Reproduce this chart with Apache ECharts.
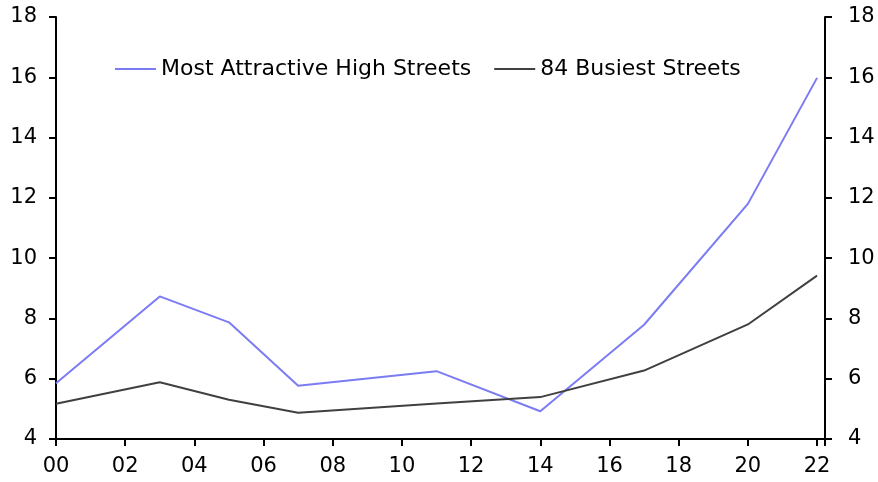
<!DOCTYPE html>
<html><head><meta charset="utf-8">
<script src="https://cdn.jsdelivr.net/npm/echarts@6/dist/echarts.min.js"></script>
<style>html,body{margin:0;padding:0;background:#fff}#c{width:878px;height:482px}</style>
</head><body><div id="c"></div>
<script>
const years = [0, 3, 5, 7, 11, 14, 17, 20, 22];
const attractive = [5.85, 8.73, 7.87, 5.77, 6.25, 4.92, 7.79, 11.8, 15.98];
const busiest = [5.17, 5.88, 5.3, 4.87, 5.18, 5.39, 6.27, 7.8, 9.42];
const seriesNames = ['Most Attractive High Streets', '84 Busiest Streets'];
const yTicks = [4, 6, 8, 10, 12, 14, 16, 18];

const font = 'DejaVu Sans, sans-serif';
const chart = echarts.init(document.getElementById('c'), null, {renderer: 'canvas'});
const pair = (vals) => years.map((y, i) => [y, vals[i]]);
const yAxisCommon = {
  type: 'value', min: yTicks[0], max: yTicks[yTicks.length - 1], interval: 2,
  splitLine: {show: false},
  axisLine: {show: true, lineStyle: {color: '#000', width: 2}},
  axisTick: {show: true, length: 7, lineStyle: {color: '#000', width: 2}},
  axisLabel: {color: '#000', fontSize: 21, fontFamily: font}
};
chart.setOption({
  animation: false,
  grid: {left: 56, right: 53, top: 17, bottom: 43, containLabel: false},
  legend: {
    left: 110, top: 53, icon: 'rect', itemWidth: 41, itemHeight: 2, itemGap: 23,
    textStyle: {color: '#000', fontSize: 22, fontFamily: font},
    data: seriesNames
  },
  xAxis: {
    type: 'value', min: 0, max: 22.23, interval: 2,
    splitLine: {show: false},
    axisLine: {show: true, onZero: false, lineStyle: {color: '#000', width: 2}},
    axisTick: {show: true, length: 7, lineStyle: {color: '#000', width: 2}},
    axisLabel: {color: '#000', fontSize: 21, fontFamily: font, margin: 17,
      formatter: v => (Math.abs(v % 2) < 1e-6 ? String(Math.round(v)).padStart(2, '0') : '')}
  },
  yAxis: [
    Object.assign({}, yAxisCommon, {position: 'left', axisLabel: Object.assign({}, yAxisCommon.axisLabel, {margin: 19})}),
    Object.assign({}, yAxisCommon, {position: 'right', axisLabel: Object.assign({}, yAxisCommon.axisLabel, {margin: 23})})
  ],
  series: [
    {name: seriesNames[0], type: 'line', data: pair(attractive), symbol: 'none',
      lineStyle: {color: '#7b7bf4', width: 2}, itemStyle: {color: '#7b7bf4'}},
    {name: seriesNames[1], type: 'line', data: pair(busiest), symbol: 'none',
      lineStyle: {color: '#404040', width: 2}, itemStyle: {color: '#404040'}}
  ]
});
</script></body></html>
